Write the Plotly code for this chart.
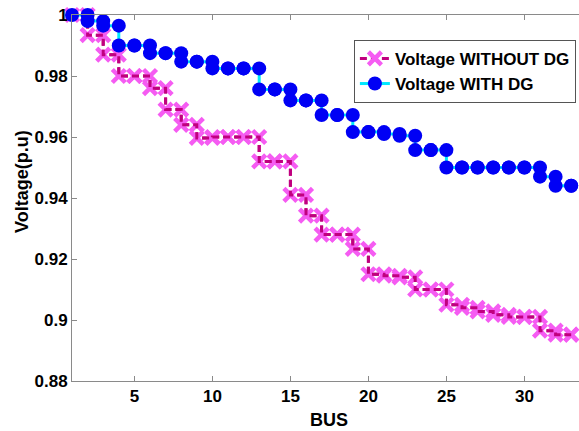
import plotly.graph_objects as go

bus = list(range(1, 34))
v_without_dg = [1.0, 0.9934, 0.987, 0.980, 0.980, 0.976, 0.969, 0.964, 0.9597, 0.960,
                0.960, 0.960, 0.952, 0.952, 0.941, 0.9342, 0.928, 0.928, 0.9233, 0.915,
                0.9145, 0.914, 0.910, 0.910, 0.905, 0.904, 0.9028, 0.9017, 0.901, 0.901,
                0.8965, 0.8952, 0.8952]
v_with_dg = [1.0, 0.998, 0.9965, 0.990, 0.990, 0.9875, 0.9875, 0.9847, 0.9847, 0.9825,
             0.9825, 0.9825, 0.9756, 0.9756, 0.972, 0.972, 0.9672, 0.9672, 0.9616, 0.9616,
             0.961, 0.9604, 0.9557, 0.9557, 0.950, 0.950, 0.950, 0.950, 0.950, 0.950,
             0.947, 0.944, 0.944]
y_ticks = [0.88, 0.90, 0.92, 0.94, 0.96, 0.98, 1.0]
y_tick_labels = ["0.88", "0.9", "0.92", "0.94", "0.96", "0.98", "1"]
x_ticks = [5, 10, 15, 20, 25, 30]


def stairs(x, y):
    xs, ys = [x[0]], [y[0]]
    for i in range(1, len(x)):
        xs += [x[i], x[i]]
        ys += [y[i - 1], y[i]]
    return xs, ys


xs1, ys1 = stairs(bus, v_without_dg)
xs2, ys2 = stairs(bus, v_with_dg)

PINK = "#F55CF2"
MAG = "#C0007F"
BLUE = "#0000F5"
CYAN = "#00E8FF"

fig = go.Figure()
fig.add_trace(go.Scatter(
    x=xs1, y=ys1, mode="lines+markers", name="Voltage WITHOUT DG",
    line=dict(color=MAG, width=3, dash="7px,4px"),
    marker=dict(symbol="x-thin", size=13, line=dict(color=PINK, width=4.5), color=PINK),
    cliponaxis=False))
fig.add_trace(go.Scatter(
    x=xs1, y=ys1, mode="lines", showlegend=False, hoverinfo="skip",
    line=dict(color=MAG, width=3, dash="7px,4px"), cliponaxis=False))
fig.add_trace(go.Scatter(
    x=xs2, y=ys2, mode="lines+markers", name="Voltage WITH DG",
    line=dict(color=CYAN, width=3),
    marker=dict(symbol="circle", size=14, color=BLUE),
    cliponaxis=False))

axis_common = dict(showline=True, linecolor="#8a8a8a", linewidth=1, ticks="inside",
                   ticklen=5, tickcolor="#8a8a8a", showgrid=False, zeroline=False,
                   tickfont=dict(family="Liberation Sans", size=17, color="black", weight="bold"))

fig.update_layout(
    width=579, height=431,
    margin=dict(l=72, r=0, t=15, b=50),
    plot_bgcolor="white", paper_bgcolor="white",
    xaxis=dict(range=[1, 33.5], tickvals=x_ticks, mirror="ticks", **axis_common),
    yaxis=dict(range=[0.88, 1.0], tickvals=y_ticks, ticktext=y_tick_labels, **axis_common),
    showlegend=True,
    legend=dict(x=0.556, y=0.932, xanchor="left", yanchor="top",
                bgcolor="white", bordercolor="#555", borderwidth=1,
                font=dict(family="Liberation Sans", size=17, color="black", weight="bold"),
                itemwidth=30, tracegroupgap=0),
    annotations=[
        dict(text="<b>BUS</b>", x=329, y=420, showarrow=False,
             font=dict(family="Liberation Sans", size=18, color="black")),
        dict(text="<b>Voltage(p.u)</b>", textangle=-90, x=22, y=182, showarrow=False,
             font=dict(family="Liberation Sans", size=18, color="black")),
    ],
)
# convert annotation pixel positions to paper coordinates
pw, ph = 579 - 72 - 0, 431 - 15 - 50
for a in fig.layout.annotations:
    a.x = (a.x - 72) / pw
    a.y = (431 - 50 - a.y) / ph
    a.xref = "paper"
    a.yref = "paper"
    a.xanchor = "center"
    a.yanchor = "middle"

fig.write_html("out.html")
